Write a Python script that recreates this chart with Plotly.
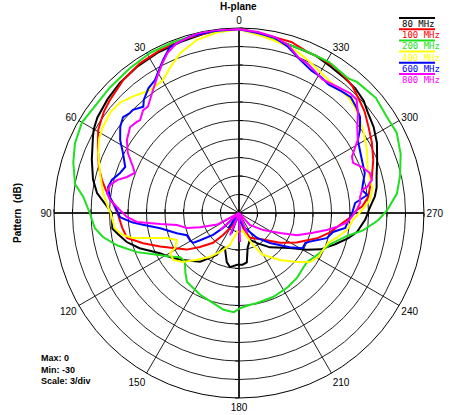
import plotly.graph_objects as go

# ---------------- data (angle in degrees, level in dB) ----------------
freq_labels = ["80 MHz", "100 MHz", "200 MHz", "400 MHz", "600 MHz", "800 MHz"]
angle_ticks = [0, 30, 60, 90, 120, 150, 180, 210, 240, 270, 300, 330]
angle_tick_labels = ["0", "30", "60", "90", "120", "150", "180", "210", "240", "270", "300", "330"]

theta_80 = [0, 10, 19, 27, 35, 42.5, 49, 56, 60, 62.5, 70, 77, 82, 86, 90, 97, 100, 104.5, 109.5, 117,
            122.5, 128.5, 141.5, 152, 155, 158, 166, 170.5, 178, 184, 189, 194, 202, 211, 222, 235.5,
            241.5, 246, 252, 257, 261, 267, 272.5, 277, 280.5, 285, 291, 297, 302.5, 308, 312, 317,
            322, 328, 334, 341, 350, 360]
r_80 = [-0.1, -0.3, -0.7, -0.85, -1.1, -1.4, -1.8, -2.3, -2.8, -3.3, -4.6, -5.7, -6.75, -8.2, -9.4, -9.3,
        -10.1, -11.2, -12.9, -15.6, -16.7, -17.8, -19.9, -22.3, -23.7, -23.9, -21.8, -21.1, -21.6, -21.6,
        -21.9, -24.2, -25.3, -24.3, -22.5, -20.0, -17.5, -15.5, -13.6, -11.8, -10.6, -9.5, -8.75, -7.8,
        -7.3, -6.9, -6.0, -4.9, -4.1, -3.5, -2.8, -2.35, -2.2, -2.0, -1.6, -1.6, -1.1, -0.1]

theta_100 = [0, 8, 16.5, 26, 33.5, 41, 49, 53, 55, 59.5, 65, 72, 76.5, 81.5, 86, 90, 97, 102.5, 107.5,
             113, 119, 125, 131, 139, 144, 153, 165, 180, 195, 204, 222, 234, 243, 252, 258, 264, 268,
             271.5, 273, 277, 285, 291.5, 298, 303.5, 309, 313.5, 318, 322, 327, 332, 337, 343, 351, 360]
r_100 = [-0.1, -0.3, -0.4, -0.65, -0.9, -1.4, -2.2, -2.6, -2.9, -3.5, -4.75, -6.1, -7.15, -8.4, -9.6,
         -10.3, -10.9, -11.4, -13.7, -16.1, -18.2, -19.65, -21.6, -23.6, -25.6, -27.8, -29.0, -29.5,
         -27.5, -25.6, -24.2, -21.8, -19.5, -16.7, -14.9, -13.3, -11.8, -10.9, -10.0, -8.9, -7.7, -6.6,
         -5.6, -4.8, -3.8, -3.2, -2.45, -2.05, -1.7, -1.6, -1.6, -1.0, -0.8, -0.1]

theta_200 = [0, 11, 21, 29, 37, 46, 54, 60, 67, 73, 80, 84, 90, 96, 100, 105, 111, 117, 122, 127, 132,
             138, 143, 155, 164, 171, 177, 181, 187, 191, 202, 213, 222, 229, 234, 242, 251, 258, 262,
             267, 271, 277, 283, 290, 297, 303, 310, 318, 321, 329, 337, 344, 352, 360]
r_200 = [-0.2, -0.2, -0.3, -0.3, -0.6, -0.8, -0.9, -0.6, -1.1, -1.9, -3.0, -4.6, -5.8, -6.5, -7.6, -9.6,
         -12.3, -15.1, -16.7, -18.1, -18.2, -17.0, -16.0, -15.3, -14.8, -14.1, -13.9, -14.6, -15.0, -15.1,
         -15.3, -15.6, -15.9, -16.3, -16.4, -15.6, -14.4, -12.1, -9.7, -7.4, -6.0, -4.2, -3.2, -2.1, -1.3,
         -1.4, -1.0, -1.4, -1.9, -1.5, -1.6, -1.5, -0.8, -0.2]

theta_400 = [0, 7, 13.6, 20, 25, 30, 36, 42, 47, 52, 58, 62, 67, 74, 81.5, 87.5, 90, 97, 100.5, 103.3,
             105.7, 109, 113.5, 118.7, 120, 125.5, 131, 138, 146.6, 154, 164, 175, 185, 192, 203.6, 209.7,
             221, 229.8, 235.4, 241, 248.4, 252, 256, 261, 266.5, 271.4, 275.7, 280.3, 288.4, 296, 303,
             308, 312.4, 316.8, 321, 326, 331, 335.7, 340, 344.7, 351.6, 360]
r_400 = [-0.2, -0.5, -1.1, -2.35, -3.8, -5.2, -5.4, -4.5, -3.7, -3.5, -3.9, -4.3, -5.2, -6.55, -7.7,
         -8.75, -9.2, -9.7, -10.7, -12.3, -15.0, -17.6, -19.0, -18.2, -17.1, -16.9, -17.9, -19.8, -21.5,
         -23.0, -24.6, -27.0, -27.0, -27.0, -24.3, -22.2, -19.9, -17.7, -16.0, -15.3, -15.0, -14.7, -13.6,
         -12.3, -11.5, -10.05, -8.65, -8.0, -8.0, -6.9, -5.9, -5.2, -4.55, -4.2, -4.15, -4.05, -3.5, -2.8,
         -2.2, -1.75, -1.15, -0.2]

theta_600 = [0, 8, 15.4, 22.6, 26.4, 28.4, 32.3, 36, 40, 42, 45.8, 47.5, 50.4, 54, 58.5, 62.6, 68, 71.4,
             75.4, 78.8, 83, 87, 92, 95, 97, 101, 108, 113, 119, 123, 125, 130, 133, 140, 145, 152, 160,
             168, 182, 188, 192, 200, 210, 216, 226, 236, 241, 245.6, 248, 254, 258.6, 262, 265.3, 269,
             271.5, 274.9, 278, 280.6, 283.6, 287.6, 293.3, 301.5, 304.5, 308.4, 312, 316, 320, 325, 329,
             333, 339, 343.6, 348.4, 354, 360]
r_600 = [-0.2, -0.2, -0.3, -0.85, -2.3, -3.1, -4.5, -5.0, -6.0, -6.8, -6.0, -6.0, -5.6, -6.2, -7.4, -8.8,
         -10.1, -9.65, -8.7, -8.35, -8.9, -9.9, -10.7, -12.6, -14.3, -17.0, -19.4, -20.8, -20.9, -21.1,
         -22.3, -24.5, -26.4, -30.0, -27.0, -30.0, -26.5, -30.0, -27.0, -30.0, -28.5, -27.5, -26.4, -25.0,
         -23.0, -20.1, -18.2, -18.2, -17.6, -15.2, -14.45, -12.6, -12.3, -11.7, -11.5, -11.1, -9.0, -9.7,
         -9.3, -8.6, -8.3, -7.4, -6.2, -4.95, -4.4, -3.9, -4.2, -4.6, -4.25, -4.1, -3.1, -1.9, -1.0,
         -0.65, -0.2]

theta_800 = [0, 7, 13, 20, 24, 27, 31, 36, 40.6, 43, 46.8, 48.3, 51.7, 56.9, 61.6, 66.5, 69, 72.2, 74.9,
             77.8, 81.4, 84.2, 88.6, 92, 95, 98, 101, 106, 110, 118, 125, 132, 145, 158, 170, 182, 192,
             202, 212, 222.5, 234.7, 244, 249, 255, 259, 262, 265, 269, 271.5, 274.7, 277.5, 280.6, 281.5,
             284, 287, 290.5, 293.7, 296.4, 299.3, 301.5, 306, 310, 314, 317, 321, 328, 332, 335, 339,
             343.7, 348.4, 354, 360]
r_800 = [-0.2, -0.1, -0.1, -0.65, -1.55, -2.7, -4.25, -6.0, -7.3, -7.2, -8.0, -7.8, -7.5, -8.3, -9.5,
         -11.25, -11.9, -10.9, -9.5, -8.6, -8.35, -9.0, -10.7, -11.8, -13.4, -17.1, -19.75, -21.2, -23.3,
         -26.0, -30.0, -25.9, -30.0, -26.1, -30.0, -25.3, -30.0, -26.5, -30.0, -27.4, -25.2, -22.6, -19.9,
         -17.6, -15.5, -13.9, -12.4, -11.5, -10.9, -10.3, -10.2, -9.7, -8.8, -7.8, -7.8, -8.7, -9.8, -9.55,
         -8.45, -7.4, -6.3, -4.8, -3.5, -3.5, -3.95, -4.45, -3.9, -3.4, -3.0, -1.6, -0.9, -0.5, -0.2]

series_theta = [theta_80, theta_100, theta_200, theta_400, theta_600, theta_800]
series_r = [r_80, r_100, r_200, r_400, r_600, r_800]
series_colors = ["#000000", "#ff0000", "#1fe01f", "#ffff00", "#0000ff", "#ff00ff"]

r_min, r_max, r_step = -30, 0, 3

# ---------------- layout geometry ----------------
W, H = 452, 415
cx, cy, R = 239, 213, 185
dom_x = [(cx - R) / W, (cx + R) / W]
dom_y = [1 - (cy + R) / H, 1 - (cy - R) / H]

fig = go.Figure()

# empty traces so every overlay polar subplot is drawn
for sp in ["polar", "polar2", "polar3"]:
    fig.add_trace(go.Scatterpolar(r=[], theta=[], subplot=sp, showlegend=False, hoverinfo="skip"))

for name, th, rr, col in zip(freq_labels, series_theta, series_r, series_colors):
    fig.add_trace(go.Scatterpolar(
        r=rr, theta=th, mode="lines", name=name, subplot="polar4",
        line=dict(color=col, width=2), showlegend=False))

radial_common = dict(range=[r_min, r_max], tick0=r_max, dtick=r_step, showticklabels=False,
                     ticks="outside", ticklen=3, tickwidth=1, tickcolor="black",
                     showline=True, linecolor="black", linewidth=1.5)

overlay_angular = dict(visible=False, direction="counterclockwise", rotation=90)

fig.update_layout(
    width=W, height=H, autosize=False,
    margin=dict(l=0, r=0, t=0, b=0),
    paper_bgcolor="white",
    showlegend=False,
    polar=dict(
        domain=dict(x=dom_x, y=dom_y),
        bgcolor="white",
        radialaxis=dict(**radial_common, angle=90, showgrid=True, gridcolor="#222", gridwidth=0.8),
        angularaxis=dict(direction="counterclockwise", rotation=90,
                         tickmode="array", tickvals=angle_ticks, ticktext=angle_tick_labels,
                         ticks="", showline=True, linecolor="black", linewidth=1,
                         showgrid=True, gridcolor="#222", gridwidth=0.8,
                         tickfont=dict(family="Liberation Sans, Arial", size=10, color="black")),
    ),
    polar2=dict(domain=dict(x=dom_x, y=dom_y), bgcolor="rgba(0,0,0,0)",
                radialaxis=dict(**radial_common, angle=180, showgrid=False),
                angularaxis=overlay_angular),
    polar3=dict(domain=dict(x=dom_x, y=dom_y), bgcolor="rgba(0,0,0,0)",
                radialaxis=dict(**radial_common, angle=270, showgrid=False),
                angularaxis=overlay_angular),
    polar4=dict(domain=dict(x=dom_x, y=dom_y), bgcolor="rgba(0,0,0,0)",
                radialaxis=dict(**radial_common, angle=0, showgrid=False, layer="below traces"),
                angularaxis=overlay_angular),
)

annotations = [
    dict(text="<b>H-plane</b>", x=238 / W, y=1 - 6 / H, xref="paper", yref="paper",
         xanchor="center", yanchor="middle", showarrow=False,
         font=dict(family="Liberation Sans, Arial", size=10, color="black")),
    dict(text="<b>Pattern  (dB)</b>", x=18 / W, y=1 - 213 / H, xref="paper", yref="paper",
         xanchor="center", yanchor="middle", textangle=-90, showarrow=False,
         font=dict(family="Liberation Sans, Arial", size=10, color="black")),
    dict(text="<b>Max: 0<br>Min: -30<br>Scale: 3/div</b>", x=39 / W, y=1 - 351 / H,
         xref="paper", yref="paper", xanchor="left", yanchor="top", align="left", showarrow=False,
         font=dict(family="Liberation Sans, Arial", size=9, color="black")),
]

shapes = []
leg_x0, leg_line_top, leg_row = 399, 18, 11.2
for i, (name, col) in enumerate(zip(freq_labels, series_colors)):
    yl = leg_line_top + i * leg_row
    shapes.append(dict(type="line", xref="paper", yref="paper",
                       x0=leg_x0 / W, x1=(leg_x0 + 36) / W, y0=1 - yl / H, y1=1 - yl / H,
                       line=dict(color=col, width=2)))
    annotations.append(dict(text=name, x=(leg_x0 + 1) / W, y=1 - (yl + 6) / H,
                            xref="paper", yref="paper", xanchor="left", yanchor="middle",
                            showarrow=False,
                            font=dict(family="DejaVu Sans Mono", size=9, color=col)))

fig.update_layout(annotations=annotations, shapes=shapes)

fig.write_html(
    "out.html",
    config={"displayModeBar": False},
    post_script="document.body.style.margin='0';document.body.style.overflow='hidden';",
)
